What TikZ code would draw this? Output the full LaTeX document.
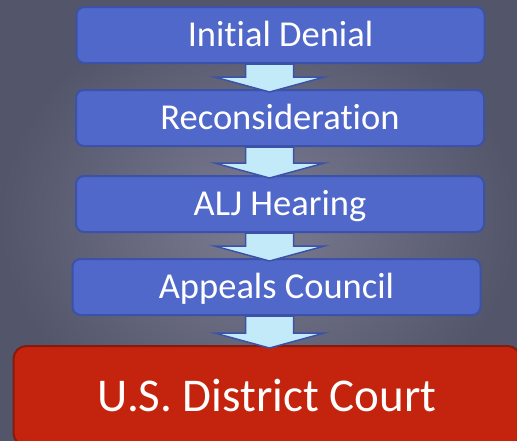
\documentclass[tikz,border=0pt]{standalone}
\usepackage{fontspec}
\setmainfont[Ligatures={NoCommon}]{Carlito}
\usetikzlibrary{calc}

\definecolor{bginner}{HTML}{7B7C92}
\definecolor{bgouter}{HTML}{53556A}
\definecolor{stepblue}{HTML}{4F68C9}
\definecolor{stepedge}{HTML}{3C52A8}
\definecolor{courtred}{HTML}{C4240D}
\definecolor{courtedge}{HTML}{861A0B}
\definecolor{arrowfill}{HTML}{C2EAF8}

\begin{document}
\begin{tikzpicture}[
  x=1pt, y=-1pt,
  stepbox/.style={draw=stepedge, fill=stepblue, line width=2pt, rounded corners=8pt,
    minimum width=408pt, minimum height=56pt, inner sep=0pt, text=white,
    font=\fontsize{36.5}{40}\selectfont, text height=23.5pt, text depth=0pt},
  courtbox/.style={draw=courtedge, fill=courtred, line width=2pt, rounded corners=13pt,
    minimum width=507pt, minimum height=100pt, inner sep=0pt, text=white,
    font=\fontsize{47}{52}\selectfont, text height=30.3pt, text depth=0pt},
  flowarrow/.style={draw=stepedge, fill=arrowfill, line width=1.5pt, line join=miter}
]

  % Background
  \clip (0,0) rectangle (517,440);
  \fill[inner color=bginner, outer color=bgouter] (0,0) rectangle (517,440);

  % Appeal steps
  \node[stepbox] (deny)    at (280.5, 35)  {Initial Denial};
  \node[stepbox] (recon)   at (280, 118)   {Reconsideration};
  \node[stepbox] (alj)     at (280, 204)   {ALJ Hearing};
  \node[stepbox] (council) at (276.5, 287) {Appeals Council};

  % Final step
  \node[courtbox] (court) at (267, 396) {U.S. District Court};

  % Block arrows between steps
  \foreach \a/\b in {deny/recon, recon/alj, alj/council, council/court}{
    \draw[flowarrow] let \p1=(\a.south), \p2=(\b.north) in
      (245.5pt,\y1) -- (293.5pt,\y1) -- (293.5pt,\y2+12pt) -- (324.5pt,\y2+12pt)
      -- (269.5pt,\y2-3pt) -- (214.5pt,\y2+12pt) -- (245.5pt,\y2+12pt) -- cycle;
  }

\end{tikzpicture}
\end{document}
